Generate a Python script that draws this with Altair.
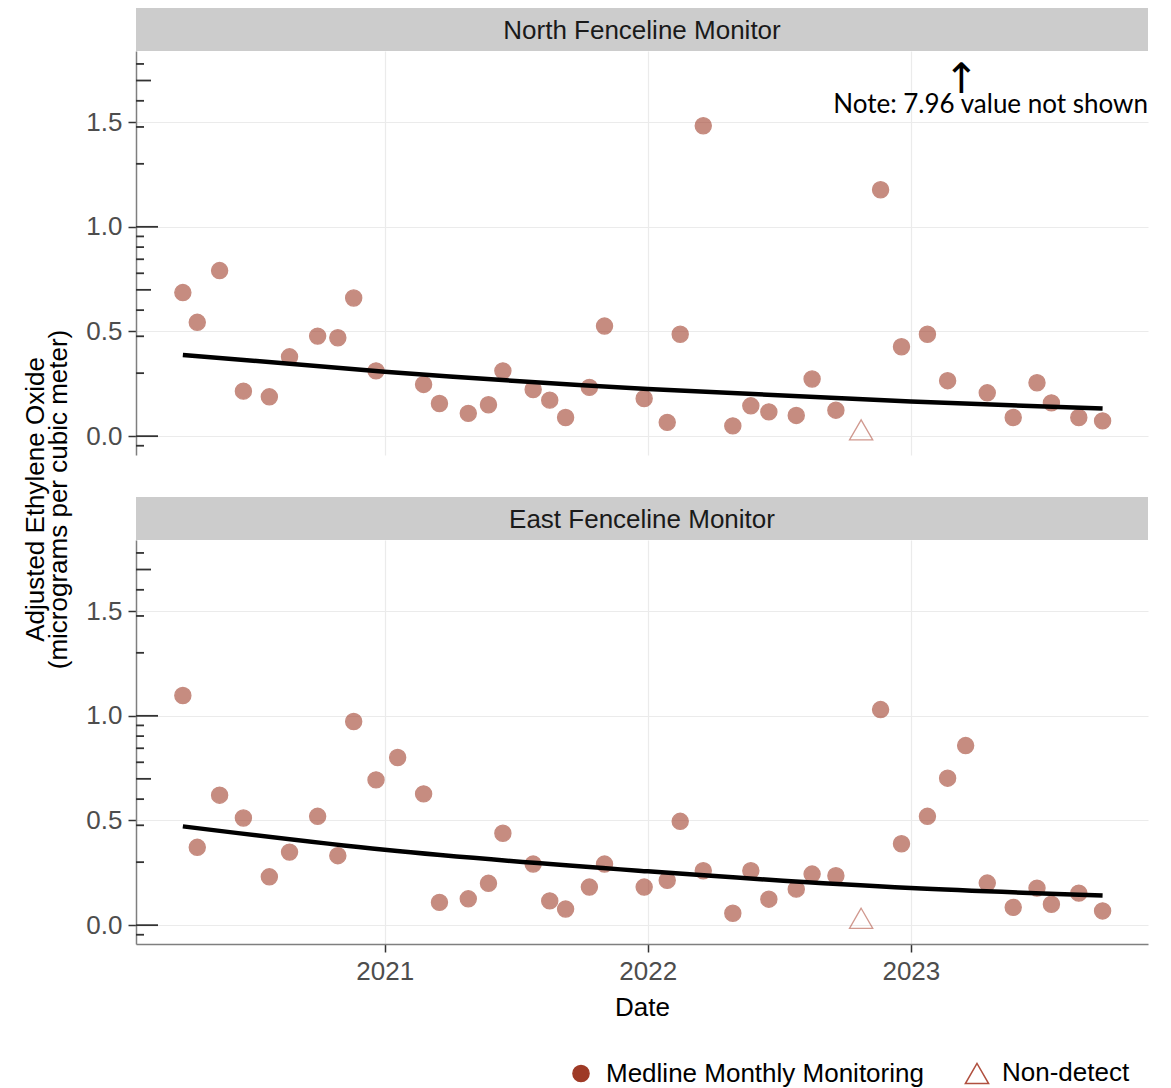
import altair as alt
import pandas as pd

# ---------------- data ----------------
dates = [
    "2020-03-27", "2020-04-16", "2020-05-17", "2020-06-19", "2020-07-25", "2020-08-22",
    "2020-09-30", "2020-10-28", "2020-11-19", "2020-12-20", "2021-01-19", "2021-02-24",
    "2021-03-18", "2021-04-27", "2021-05-25", "2021-06-14", "2021-07-26", "2021-08-18",
    "2021-09-09", "2021-10-12", "2021-11-02", "2021-12-27", "2022-01-28", "2022-02-15",
    "2022-03-19", "2022-04-29", "2022-05-24", "2022-06-18", "2022-07-26", "2022-08-17",
    "2022-09-19", "2022-10-24", "2022-11-20", "2022-12-19", "2023-01-24", "2023-02-21",
    "2023-03-18", "2023-04-17", "2023-05-23", "2023-06-25", "2023-07-15", "2023-08-22",
    "2023-09-24",
]
north = [
    0.686, 0.544, 0.791, 0.215, 0.188, 0.379, 0.478, 0.470, 0.660, 0.312, None, 0.247,
    0.156, 0.109, 0.150, 0.312, 0.223, 0.172, 0.089, 0.233, 0.526, 0.180, 0.066, 0.487,
    1.483, 0.049, 0.145, 0.116, 0.099, 0.273, 0.124, 0.030, 1.177, 0.427, 0.487, 0.265,
    7.96, 0.207, 0.089, 0.255, 0.159, 0.089, 0.073,
]
east = [
    1.097, 0.372, 0.621, 0.512, 0.231, 0.349, 0.520, 0.332, 0.973, 0.694, 0.801, 0.627,
    0.109, 0.126, 0.200, 0.439, 0.292, 0.116, 0.077, 0.182, 0.292, 0.182, 0.214, 0.496,
    0.260, 0.057, 0.260, 0.124, 0.172, 0.244, 0.236, 0.033, 1.030, 0.389, 0.520, 0.702,
    0.858, 0.201, 0.085, 0.177, 0.100, 0.153, 0.068,
]
nondetect_dates = ["2022-10-24"]

type_labels = ["Medline Monthly Monitoring", "Non-detect"]
panel_titles = ["North Fenceline Monitor", "East Fenceline Monitor"]

trend_dates = ["2020-03-27", "2021-01-01", "2022-01-01", "2023-01-01", "2023-09-24"]
trend_north = [0.388, 0.308, 0.225, 0.165, 0.132]
trend_east = [0.472, 0.360, 0.257, 0.177, 0.142]

# log-tick annotation along the y axis (multipliers whose log10 is marked)
logtick_long = [1, 10]
logtick_mid = [5, 50]
logtick_short = [0.9, 2, 3, 4, 6, 7, 8, 9, 20, 30, 40, 60]

year_ticks = [2021, 2022, 2023]
y_ticks = [0.0, 0.5, 1.0, 1.5]

note_text = ["Note: 7.96 value not shown"]
note_value = [1.58]
arrow_date = ["2023-03-12"]
arrow_value = [1.70]

# ---------------- layout ----------------
W = 1012
H = 404
STRIP_H = 43
GAP = 42
FONT = "Liberation Sans"
PT_COLOR = "#9e3a26"

xscale = alt.Scale(
    domain=[alt.DateTime(year=2020, month=1, date=22), alt.DateTime(year=2023, month=11, date=26)],
    nice=False,
)
yscale = alt.Scale(domain=[-0.09, 1.84], nice=False, zero=False)
year_vals = [alt.DateTime(year=y, month=1, date=1) for y in year_ticks]

legend = alt.Legend(title=None, orient="none", legendX=432, legendY=520, direction="horizontal",
                    labelFontSize=26, labelFont=FONT, labelColor="black", labelLimit=0,
                    symbolStrokeWidth=1.5, symbolOpacity=1, columnPadding=38, labelOffset=12)


def points_df(values):
    rows = []
    for d, v in zip(dates, values):
        if v is None:
            continue
        t = type_labels[1] if d in nondetect_dates else type_labels[0]
        rows.append({"date": d, "value": v, "type": t})
    return pd.DataFrame(rows)


def make_panel(values, trend, top):
    if top:
        xaxis = alt.Axis(labels=False, ticks=False, domain=False, title=None, values=year_vals)
        yaxis = alt.Axis(values=y_ticks, format=".1f",
                         title=["Adjusted Ethylene Oxide", "(micrograms per cubic meter)"],
                         titleY=448, titleX=-88, titleAngle=270, titleFontSize=26,
                         titleFontWeight="normal", titleColor="black", titleLineHeight=23,
                         titleFont=FONT)
    else:
        xaxis = alt.Axis(format="%Y", title="Date", values=year_vals, labelPadding=6,
                         titleFontSize=26, titleFontWeight="normal", titleColor="black",
                         titlePadding=10, titleFont=FONT)
        yaxis = alt.Axis(values=y_ticks, format=".1f", title=None)

    X = alt.X("date:T", scale=xscale, axis=xaxis)
    Y = alt.Y("value:Q", scale=yscale, axis=yaxis)
    leg = None if top else legend

    pts = alt.Chart(points_df(values)).mark_point(opacity=0.58, strokeWidth=1.3, clip=True).encode(
        x=X, y=Y,
        shape=alt.Shape("type:N", scale=alt.Scale(domain=type_labels, range=["circle", "triangle-up"]), legend=leg),
        fill=alt.Fill("type:N", scale=alt.Scale(domain=type_labels, range=[PT_COLOR, "transparent"]), legend=leg),
        stroke=alt.Stroke("type:N", scale=alt.Scale(domain=type_labels, range=[PT_COLOR, "#b0503f"]), legend=leg),
        size=alt.Size("type:N", scale=alt.Scale(domain=type_labels, range=[260, 540]), legend=leg),
    )

    trend_df = pd.DataFrame({"date": trend_dates, "value": trend})
    line = alt.Chart(trend_df).mark_line(color="black", strokeWidth=4.5, interpolate="monotone").encode(x=X, y=Y)

    rugs = []
    for mults, length in ((logtick_long, 22), (logtick_mid, 15), (logtick_short, 8)):
        rugs.append(
            alt.Chart(pd.DataFrame({"m": mults}))
            .transform_calculate(value="log(datum.m) / LN10")
            .transform_filter("datum.value >= -0.09 && datum.value <= 1.84")
            .mark_rule(color="#333333", strokeWidth=1.8)
            .encode(x=alt.value(0), x2=alt.value(length), y=Y)
        )

    layers = rugs + [pts, line]
    if top:
        note = alt.Chart(pd.DataFrame({"text": note_text, "value": note_value})).mark_text(
            align="right", baseline="middle", font="Lato", fontSize=26, color="black"
        ).encode(x=alt.value(W), y=Y, text="text:N")
        arrow = alt.Chart(pd.DataFrame({"date": arrow_date, "value": arrow_value, "t": ["↑"]})).mark_text(
            baseline="middle", font="DejaVu Sans", fontSize=42, color="black"
        ).encode(x=X, y=Y, text="t:N")
        layers += [note, arrow]

    return alt.layer(*layers).properties(width=W, height=H)


def make_strip(title, offset):
    base = alt.Chart(pd.DataFrame({"label": [title]}))
    rect = base.mark_rect(color="#cccccc").encode(
        x=alt.value(0), x2=alt.value(W), y=alt.value(offset), y2=alt.value(offset + STRIP_H)
    )
    txt = base.mark_text(font=FONT, fontSize=26, color="#1a1a1a", baseline="middle").encode(
        text="label:N", x=alt.value(W / 2), y=alt.value(offset + STRIP_H / 2 + 1)
    )
    return alt.layer(rect, txt).properties(width=W, height=offset + STRIP_H)


chart = alt.vconcat(
    make_strip(panel_titles[0], 0),
    make_panel(north, trend_north, True),
    make_strip(panel_titles[1], GAP),
    make_panel(east, trend_east, False),
    spacing=0,
    bounds="flush",
).resolve_legend(
    shape="independent", fill="independent", stroke="independent", size="independent"
).properties(
    padding={"left": 14, "top": 0, "right": 5, "bottom": 5}
).configure(font=FONT).configure_view(stroke=None).configure_axis(
    labelFontSize=26, labelColor="#4d4d4d", labelFont=FONT, tickColor="#333333", tickSize=8,
    tickWidth=1.5, domainColor="#7f7f7f", domainWidth=1.5, gridColor="#ebebeb", gridWidth=1.2,
    labelPadding=6
)

chart.save("out.html", embed_options={"renderer": "svg", "actions": False})
